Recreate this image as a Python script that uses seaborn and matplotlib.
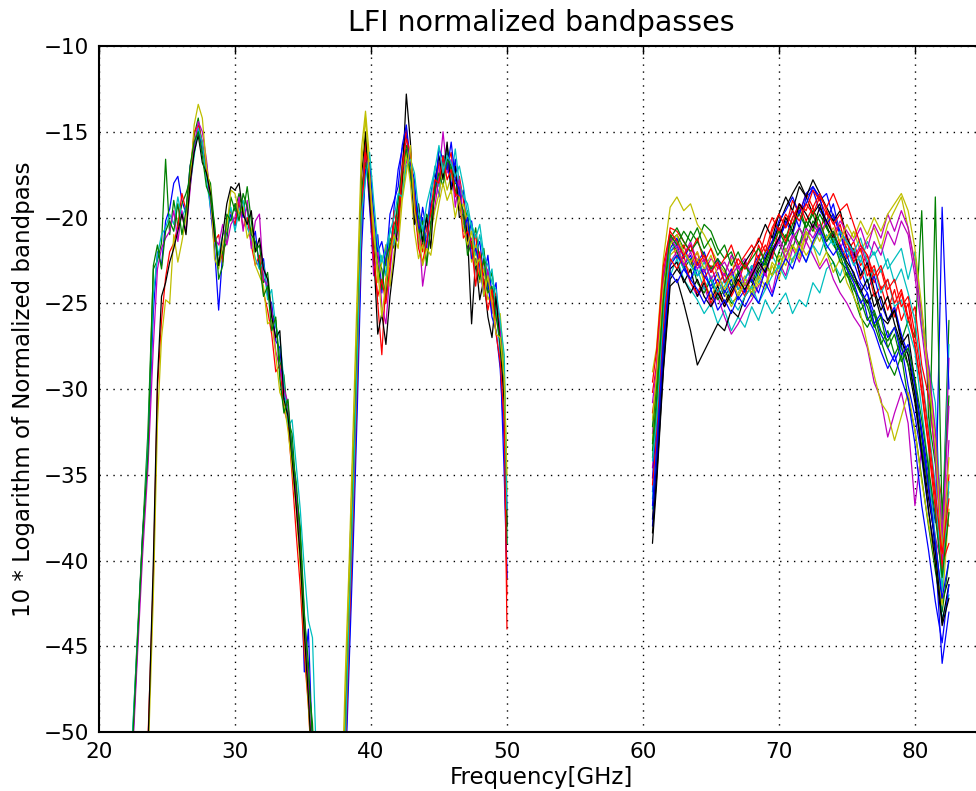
import pandas as pd
import matplotlib.pyplot as plt
import seaborn as sns

# ---------------------------------------------------
# Bandpass data (dB)
# ---------------------------------------------------

FREQ_30 = [22.4, 22.8, 23.2, 23.6, 24.0, 24.3, 24.6, 24.9, 25.2, 25.5,
           25.8, 26.1, 26.4, 26.7, 27.0, 27.3, 27.6, 27.9, 28.2, 28.5,
           28.8, 29.1, 29.4, 29.7, 30.0, 30.3, 30.6, 30.9, 31.2, 31.5,
           31.8, 32.1, 32.4, 32.7, 33.0, 33.3, 33.6, 33.9, 34.2, 34.5,
           34.8, 35.1, 35.4, 35.7, 36.0]

COLORS_30 = ["b", "g", "r", "c", "m", "y", "k", "g"]

BAND_30 = [
    [-52.0, -45.5, -38.5, -34.0, -25.5, -22.0, -22.8, -20.2, -19.5, -18.0,
     -17.6, -19.0, -19.8, -17.0, -16.0, -14.8, -16.2, -16.8, -19.5, -21.8,
     -25.4, -22.0, -20.8, -19.8, -20.5, -19.2, -20.0, -19.4, -21.5, -20.8,
     -23.0, -22.4, -24.6, -25.0, -27.2, -27.6, -30.5, -31.0, -33.5, -35.8,
     -39.0, -46.5, -44.0, -51.0, -56.0],
    [-51.5, -44.8, -38.6, -32.5, -23.0, -22.5, -21.5, -16.6, -21.0, -19.0,
     -20.5, -19.2, -18.6, -17.8, -15.2, -14.2, -15.8, -17.5, -18.0, -20.6,
     -22.8, -22.0, -21.4, -18.8, -19.6, -18.6, -19.8, -18.2, -20.2, -22.0,
     -21.6, -23.8, -23.2, -25.6, -26.0, -28.4, -29.2, -31.8, -32.6, -36.0,
     -38.0, -43.0, -47.0, -49.5, -55.0],
    [-70.0, -64.0, -58.0, -50.5, -41.0, -30.0, -26.0, -23.5, -22.0, -21.5,
     -20.5, -18.6, -19.6, -17.5, -15.0, -14.6, -15.6, -17.2, -18.8, -21.4,
     -21.0, -22.6, -20.2, -19.6, -20.4, -19.0, -20.6, -20.0, -21.6, -22.8,
     -22.2, -24.4, -25.4, -26.8, -29.0, -28.6, -31.2, -32.0, -35.0, -38.4,
     -41.5, -45.5, -48.5, -53.0, -58.0],
    [-51.0, -45.0, -39.2, -33.2, -24.5, -22.2, -21.0, -20.6, -19.8, -20.4,
     -18.8, -20.0, -19.4, -18.2, -16.4, -14.8, -15.6, -17.8, -19.4, -20.8,
     -22.2, -21.0, -20.6, -19.4, -20.8, -19.6, -19.0, -20.6, -21.2, -22.4,
     -23.0, -22.6, -24.8, -24.2, -26.4, -27.0, -29.6, -32.2, -31.8, -34.4,
     -37.0, -40.5, -43.5, -44.5, -52.0],
    [-52.5, -46.0, -39.8, -34.6, -27.5, -23.0, -21.8, -21.2, -20.8, -19.6,
     -21.4, -19.6, -20.8, -18.4, -15.8, -14.4, -15.0, -16.6, -19.0, -21.2,
     -21.6, -20.4, -21.6, -20.4, -20.0, -18.8, -20.8, -19.0, -21.8, -20.2,
     -19.8, -23.6, -24.0, -25.4, -27.8, -28.8, -30.0, -30.8, -34.4, -36.2,
     -39.2, -44.0, -47.5, -52.0, -56.0],
    [-72.0, -66.0, -60.0, -52.0, -42.0, -32.0, -27.0, -24.8, -25.0, -21.0,
     -22.6, -21.4, -20.0, -18.0, -14.6, -13.4, -14.2, -17.0, -18.4, -22.4,
     -23.0, -21.6, -20.6, -18.4, -18.6, -19.8, -19.4, -21.2, -20.6, -22.8,
     -23.4, -24.0, -26.2, -26.0, -28.0, -30.2, -30.8, -32.4, -34.6, -37.0,
     -40.4, -44.6, -48.5, -52.5, -57.0],
    [-71.0, -65.0, -59.0, -51.0, -40.0, -29.5, -24.6, -23.8, -22.6, -21.8,
     -20.8, -19.8, -21.0, -18.0, -16.2, -15.2, -16.8, -17.4, -18.6, -21.0,
     -22.8, -21.0, -19.2, -18.2, -18.4, -18.0, -19.8, -20.4, -19.6, -22.0,
     -21.2, -23.0, -23.6, -25.8, -27.0, -26.6, -30.6, -31.6, -34.0, -36.8,
     -39.8, -44.2, -48.0, -52.5, -57.0],
    [-51.8, -45.2, -38.8, -33.8, -22.8, -21.6, -23.0, -20.8, -20.2, -20.8,
     -19.2, -21.0, -19.6, -17.0, -15.6, -15.0, -16.4, -18.2, -18.8, -20.4,
     -23.6, -22.8, -19.8, -20.2, -19.2, -20.2, -18.6, -19.4, -21.0, -21.4,
     -22.6, -24.6, -24.0, -26.6, -25.8, -29.4, -31.4, -30.6, -33.8, -35.4,
     -38.6, -43.2, -46.0, -50.5, -55.0],
]

FREQ_44 = [37.8, 38.1, 38.4, 38.7, 39.0, 39.3, 39.6, 39.9, 40.2, 40.5,
           40.8, 41.1, 41.4, 41.7, 42.0, 42.3, 42.6, 42.9, 43.2, 43.5,
           43.8, 44.1, 44.4, 44.7, 45.0, 45.3, 45.6, 45.9, 46.2, 46.5,
           46.8, 47.1, 47.4, 47.7, 48.0, 48.3, 48.6, 48.9, 49.2, 49.5,
           49.8, 50.0]

COLORS_44 = ["b", "g", "r", "c", "m", "y", "k", "b", "g", "r", "c", "y"]

BAND_44 = [
    [-57.0, -49.0, -41.0, -33.0, -26.0, -19.5, -16.0, -19.4, -22.8, -21.0,
     -24.4, -21.6, -22.8, -19.4, -17.2, -16.0, -15.2, -17.6, -19.8, -21.2,
     -19.4, -20.8, -18.6, -17.4, -18.8, -16.4, -16.8, -18.2, -16.6, -19.2,
     -18.4, -21.4, -20.2, -22.0, -21.4, -23.4, -22.2, -24.6, -23.8, -28.0,
     -35.0, -41.0],
    [-59.0, -51.0, -44.0, -37.0, -29.0, -20.8, -15.2, -17.8, -20.6, -22.4,
     -23.0, -24.8, -21.2, -21.8, -19.6, -18.0, -15.8, -16.4, -18.6, -20.0,
     -21.6, -19.8, -20.4, -18.2, -17.8, -17.0, -15.8, -17.4, -18.0, -18.2,
     -20.4, -19.6, -21.8, -20.6, -22.6, -21.8, -24.0, -23.2, -25.0, -26.4,
     -29.0, -38.0],
    [-58.0, -50.0, -43.0, -35.0, -27.0, -19.0, -15.6, -18.0, -21.8, -25.0,
     -28.0, -23.6, -22.0, -20.4, -19.8, -16.8, -14.8, -17.2, -19.4, -20.6,
     -22.0, -20.6, -19.8, -18.8, -16.8, -17.6, -17.0, -16.2, -18.8, -17.6,
     -19.0, -20.6, -21.8, -21.0, -23.4, -22.6, -23.2, -25.2, -24.4, -27.0,
     -31.0, -44.0],
    [-60.0, -52.0, -45.0, -38.0, -30.0, -21.0, -16.8, -17.0, -20.4, -23.2,
     -22.2, -23.4, -20.6, -21.6, -18.8, -18.4, -16.6, -17.0, -18.4, -21.6,
     -20.6, -21.2, -19.0, -17.0, -18.2, -16.8, -16.2, -17.8, -16.0, -18.0,
     -18.8, -19.2, -20.6, -22.2, -21.0, -22.4, -23.6, -23.0, -25.4, -27.8,
     -30.4, -39.0],
    [-59.0, -51.0, -44.0, -36.0, -27.0, -18.8, -16.4, -18.8, -23.4, -21.8,
     -25.2, -26.2, -23.2, -20.8, -21.4, -17.4, -16.8, -16.0, -19.8, -20.2,
     -24.0, -22.4, -20.6, -19.4, -17.6, -15.0, -17.4, -16.6, -19.4, -17.8,
     -20.0, -21.8, -21.2, -23.0, -22.2, -24.2, -23.0, -25.6, -24.8, -26.6,
     -30.0, -37.0],
    [-56.0, -47.0, -40.0, -32.0, -24.0, -16.0, -13.8, -16.6, -20.2, -23.8,
     -22.6, -21.6, -24.0, -22.0, -20.6, -18.6, -16.2, -18.0, -20.8, -22.4,
     -21.6, -22.6, -20.8, -19.6, -18.6, -17.2, -18.4, -17.6, -17.2, -19.6,
     -19.2, -20.4, -22.6, -21.6, -23.8, -23.0, -24.8, -24.2, -26.0, -25.6,
     -28.6, -36.0],
    [-57.0, -49.0, -42.0, -34.0, -26.0, -17.6, -15.0, -19.0, -22.0, -26.8,
     -25.6, -27.4, -24.6, -22.6, -20.2, -17.8, -12.8, -15.6, -20.4, -19.2,
     -21.4, -20.0, -21.8, -18.0, -16.4, -17.8, -15.6, -18.6, -17.0, -20.0,
     -19.8, -21.0, -26.2, -22.4, -24.8, -23.6, -25.8, -27.0, -24.6, -27.4,
     -30.8, -38.0],
    [-61.0, -53.0, -46.0, -39.0, -31.0, -22.0, -17.2, -16.8, -19.6, -22.0,
     -21.4, -22.8, -19.8, -19.0, -18.2, -15.8, -14.6, -16.8, -17.8, -20.8,
     -20.0, -21.8, -19.2, -18.6, -16.0, -16.6, -17.2, -15.6, -17.8, -18.4,
     -20.8, -20.0, -22.4, -21.8, -22.8, -24.6, -23.8, -25.8, -26.6, -28.8,
     -33.0, -41.0],
    [-58.0, -50.0, -42.0, -34.0, -26.0, -18.4, -16.8, -18.2, -21.4, -22.8,
     -24.2, -22.4, -21.6, -21.0, -19.0, -17.0, -16.0, -17.4, -19.2, -21.0,
     -20.2, -22.8, -20.4, -18.4, -17.4, -18.2, -16.6, -17.0, -18.4, -19.0,
     -19.6, -22.2, -21.4, -22.8, -23.6, -22.4, -24.4, -24.0, -25.8, -27.2,
     -29.6, -39.0],
    [-60.0, -52.0, -44.0, -37.0, -29.0, -20.2, -16.2, -17.4, -22.4, -24.6,
     -23.6, -25.0, -22.8, -19.6, -20.8, -17.2, -15.4, -16.2, -19.0, -21.8,
     -22.6, -21.4, -19.6, -17.8, -18.0, -16.4, -17.8, -17.2, -18.6, -18.8,
     -21.2, -20.8, -21.6, -24.0, -22.0, -23.8, -25.4, -24.2, -26.8, -28.4,
     -32.0, -42.0],
    [-59.0, -51.0, -43.0, -36.0, -28.0, -19.8, -17.8, -16.2, -19.0, -21.6,
     -22.6, -21.8, -20.8, -20.0, -18.6, -18.8, -17.0, -16.6, -17.4, -19.6,
     -20.8, -19.2, -18.2, -17.2, -15.8, -17.4, -16.4, -16.8, -17.6, -17.0,
     -18.2, -19.8, -20.4, -21.2, -20.4, -22.2, -22.8, -23.8, -24.2, -26.0,
     -28.0, -37.0],
    [-57.0, -48.0, -41.0, -33.0, -25.0, -17.0, -14.2, -17.6, -21.0, -23.0,
     -25.8, -23.8, -22.2, -21.0, -21.8, -19.0, -17.4, -15.8, -19.6, -21.0,
     -22.8, -21.8, -22.2, -20.6, -19.2, -18.0, -19.0, -18.4, -20.0, -18.8,
     -20.6, -21.6, -20.8, -22.8, -22.4, -24.6, -23.4, -25.0, -26.8, -27.0,
     -29.4, -35.0],
]

FREQ_70 = [60.7, 61.0, 61.5, 62.0, 62.5, 63.0, 63.5, 64.0, 64.5, 65.0,
           65.5, 66.0, 66.5, 67.0, 67.5, 68.0, 68.5, 69.0, 69.5, 70.0,
           70.5, 71.0, 71.5, 72.0, 72.5, 73.0, 73.5, 74.0, 74.5, 75.0,
           75.5, 76.0, 76.5, 77.0, 77.5, 78.0, 78.5, 79.0, 79.5, 80.0,
           80.5, 81.0, 81.5, 82.0, 82.5]

COLORS_70 = ["b", "g", "r", "c", "m", "y", "k", "b", "g", "r", "c", "m",
             "y", "k", "b", "g", "r", "c", "m", "y", "k", "b", "g", "r"]

BAND_70 = [
    [-36.0, -33.0, -26.5, -22.0, -21.6, -22.8, -22.2, -23.4, -23.0, -24.2, -23.6, -24.6, -24.0, -23.2, -24.4,
     -23.0, -22.2, -23.4, -21.8, -21.2, -20.4, -19.6, -20.6, -18.8, -18.4, -19.6, -20.2, -19.2, -21.0, -21.8,
     -22.6, -23.8, -24.4, -25.6, -26.8, -27.6, -28.4, -27.4, -29.8, -31.6, -34.0, -37.2, -39.6, -46.0, -43.0],
    [-33.6, -30.8, -24.6, -21.4, -21.0, -21.8, -20.8, -21.4, -20.4, -20.8, -21.8, -22.4, -22.0, -23.2, -22.6,
     -23.8, -22.8, -22.0, -21.4, -20.6, -21.2, -20.0, -19.4, -20.6, -19.8, -21.0, -20.4, -21.6, -22.2, -23.4,
     -24.0, -25.4, -24.8, -26.2, -27.4, -26.6, -28.0, -27.2, -26.0, -27.0, -19.6, -31.6, -34.4, -38.8, -26.0],
    [-30.2, -28.6, -23.2, -21.0, -22.4, -21.6, -22.8, -22.0, -23.6, -22.8, -24.0, -23.2, -24.6, -23.8, -22.6,
     -23.4, -21.6, -22.6, -20.8, -19.8, -20.6, -19.0, -19.8, -18.6, -19.4, -20.8, -19.6, -21.2, -20.4, -22.0,
     -21.4, -22.8, -22.2, -23.8, -23.0, -24.6, -25.8, -24.4, -26.0, -25.2, -28.6, -30.4, -33.8, -36.6, -38.0],
    [-37.0, -34.2, -28.0, -23.4, -22.4, -23.6, -24.2, -24.8, -25.6, -25.0, -26.2, -25.4, -26.6, -25.8, -26.4,
     -25.2, -26.0, -24.8, -25.6, -25.0, -24.4, -25.6, -24.8, -25.2, -23.8, -24.4, -23.0, -22.6, -23.4, -22.2,
     -21.8, -22.6, -21.4, -22.2, -21.6, -23.0, -22.4, -21.8, -23.6, -22.0, -26.4, -28.6, -30.8, -39.0, -27.4],
    [-34.6, -31.6, -25.8, -22.6, -22.0, -22.8, -23.8, -24.6, -24.0, -25.2, -24.6, -25.8, -26.8, -26.2, -25.4,
     -24.8, -24.0, -23.2, -24.4, -22.6, -23.4, -21.8, -22.6, -21.4, -22.2, -23.0, -22.4, -23.6, -24.4, -25.0,
     -25.8, -26.4, -27.6, -29.6, -30.6, -32.8, -31.4, -30.2, -32.0, -36.8, -33.4, -35.8, -38.6, -40.4, -28.2],
    [-29.0, -27.6, -22.4, -19.4, -18.8, -19.6, -19.2, -20.4, -21.0, -21.8, -22.6, -23.2, -22.4, -24.0, -23.4,
     -24.6, -23.8, -24.2, -22.8, -23.6, -22.2, -21.6, -22.4, -21.0, -20.6, -21.4, -20.2, -19.8, -20.8, -21.6,
     -20.8, -22.0, -21.2, -20.6, -21.8, -20.4, -19.6, -18.8, -20.6, -22.6, -25.8, -29.2, -32.6, -38.4, -36.0],
    [-39.0, -35.6, -29.0, -24.0, -23.6, -25.0, -26.6, -28.6, -27.8, -27.0, -26.2, -26.6, -25.4, -25.8, -24.6,
     -24.0, -23.0, -22.4, -21.6, -20.4, -19.4, -18.6, -17.9, -18.8, -19.8, -19.2, -20.6, -21.2, -22.0, -22.8,
     -23.6, -24.2, -25.0, -24.4, -25.8, -26.2, -25.4, -27.0, -28.6, -30.8, -33.6, -36.4, -38.8, -42.4, -41.0],
    [-35.2, -32.0, -25.6, -21.8, -21.2, -22.4, -21.6, -22.6, -22.0, -23.2, -22.4, -23.8, -23.0, -24.2, -23.6,
     -22.8, -23.6, -22.2, -21.4, -20.2, -19.6, -18.8, -19.8, -18.6, -18.2, -19.0, -18.6, -20.0, -20.8, -21.4,
     -22.2, -23.0, -24.2, -23.4, -25.0, -26.0, -25.2, -26.8, -28.0, -29.8, -32.4, -35.0, -37.8, -19.4, -30.0],
    [-34.0, -31.4, -25.2, -21.2, -22.0, -23.0, -22.4, -23.8, -24.4, -23.6, -24.8, -24.2, -25.0, -24.6, -23.8,
     -24.4, -23.2, -22.6, -23.4, -22.0, -21.0, -21.8, -20.6, -21.4, -20.2, -20.8, -22.0, -22.6, -23.8, -23.2,
     -24.6, -25.8, -26.4, -25.6, -27.2, -28.4, -29.2, -28.0, -30.6, -32.4, -35.2, -38.0, -40.6, -43.0, -40.0],
    [-31.4, -29.6, -23.8, -20.6, -20.8, -21.4, -22.0, -21.2, -22.6, -21.8, -23.0, -22.4, -21.6, -22.8, -22.2,
     -21.6, -22.4, -21.0, -20.0, -20.8, -19.8, -20.4, -19.2, -19.6, -18.4, -19.0, -19.8, -20.2, -21.6, -22.4,
     -21.8, -23.6, -22.8, -24.6, -24.0, -25.4, -24.2, -26.0, -25.0, -27.6, -30.2, -33.4, -37.0, -40.8, -35.0],
    [-36.4, -33.2, -26.8, -22.6, -22.2, -23.0, -23.6, -23.0, -24.2, -23.4, -24.6, -24.0, -23.2, -24.2, -23.6,
     -22.8, -23.8, -23.0, -22.2, -23.0, -21.8, -22.6, -21.6, -20.8, -21.6, -20.8, -21.8, -21.2, -22.4, -21.8,
     -22.8, -22.2, -23.8, -23.0, -24.4, -23.6, -25.2, -24.8, -26.4, -27.8, -31.2, -34.6, -38.8, -43.4, -42.0],
    [-32.6, -30.0, -24.2, -21.0, -21.6, -22.2, -21.4, -22.6, -23.2, -22.4, -22.8, -23.4, -22.2, -23.0, -22.4,
     -23.6, -22.6, -23.2, -22.0, -21.2, -22.0, -21.0, -21.8, -20.6, -21.2, -20.4, -21.4, -20.8, -21.8, -21.0,
     -22.4, -21.6, -22.8, -21.4, -22.2, -20.8, -21.6, -20.2, -21.0, -23.4, -26.6, -29.8, -34.0, -40.2, -33.0],
    [-33.0, -30.4, -25.0, -22.2, -21.8, -22.6, -23.2, -22.4, -23.8, -24.6, -23.8, -24.4, -25.2, -24.4, -23.6,
     -24.2, -23.4, -24.0, -22.6, -23.2, -21.8, -22.6, -21.4, -22.2, -21.6, -22.8, -22.0, -23.2, -22.4, -23.8,
     -24.6, -25.6, -27.4, -29.2, -30.8, -31.4, -33.0, -31.6, -30.2, -32.4, -35.4, -37.8, -40.2, -42.6, -37.0],
    [-37.6, -34.4, -27.6, -23.0, -22.6, -23.8, -23.0, -24.6, -23.8, -24.8, -24.0, -25.0, -24.2, -23.4, -22.6,
     -22.0, -21.4, -20.4, -21.2, -19.8, -18.8, -19.6, -18.2, -18.8, -17.8, -18.6, -19.4, -20.2, -19.6, -21.2,
     -22.0, -23.4, -22.6, -24.2, -25.4, -24.6, -26.2, -27.4, -26.8, -29.6, -32.8, -35.6, -39.4, -43.6, -41.4],
    [-38.0, -34.8, -28.4, -22.8, -22.2, -22.8, -23.6, -22.6, -23.4, -24.0, -23.2, -24.4, -23.6, -24.8, -24.2,
     -23.6, -24.4, -23.0, -22.2, -21.4, -20.2, -21.0, -19.6, -19.2, -18.2, -18.8, -20.4, -19.8, -21.0, -22.2,
     -23.4, -24.0, -25.8, -26.6, -27.8, -28.8, -28.0, -29.4, -30.6, -33.2, -36.8, -39.4, -42.4, -44.8, -41.4],
    [-32.2, -29.8, -23.8, -21.2, -20.6, -21.4, -22.0, -21.4, -22.2, -23.0, -22.4, -23.0, -24.0, -23.2, -22.8,
     -23.4, -22.4, -22.8, -21.8, -22.6, -21.4, -20.8, -21.6, -20.2, -20.8, -19.8, -20.6, -21.4, -22.6, -23.0,
     -24.2, -24.8, -26.0, -25.4, -26.6, -27.2, -26.4, -27.6, -28.6, -30.2, -33.4, -35.8, -18.8, -37.6, -30.4],
    [-35.6, -32.8, -26.4, -22.4, -23.0, -22.2, -23.8, -24.4, -23.6, -25.0, -24.2, -25.2, -24.4, -23.8, -24.6,
     -23.2, -22.4, -21.6, -22.4, -20.6, -21.4, -20.0, -19.2, -20.2, -19.4, -18.6, -19.6, -20.4, -19.8, -21.4,
     -22.6, -21.8, -23.4, -22.8, -24.2, -23.6, -25.0, -24.2, -25.8, -27.4, -30.0, -33.2, -36.4, -40.2, -39.0],
    [-34.2, -31.8, -25.4, -22.0, -21.4, -22.0, -22.8, -23.4, -22.6, -23.6, -24.4, -23.6, -24.8, -25.4, -24.6,
     -24.0, -25.0, -24.2, -23.4, -22.8, -23.6, -22.4, -21.8, -22.6, -21.6, -22.2, -21.0, -21.6, -20.8, -21.4,
     -22.0, -21.2, -22.6, -22.0, -23.2, -22.4, -23.8, -23.0, -24.4, -26.0, -29.2, -32.2, -35.6, -41.8, -35.4],
    [-30.8, -28.8, -23.4, -21.2, -21.8, -22.8, -22.0, -23.0, -22.4, -23.6, -23.0, -22.6, -23.4, -22.8, -24.0,
     -23.2, -22.6, -23.4, -22.0, -21.4, -22.4, -21.2, -20.6, -21.4, -20.4, -21.0, -20.2, -21.0, -20.2, -20.8,
     -21.4, -20.6, -21.8, -20.4, -21.2, -19.8, -20.8, -19.6, -20.6, -22.8, -25.6, -28.6, -32.4, -38.6, -31.0],
    [-31.8, -29.2, -24.0, -21.6, -21.0, -22.0, -22.6, -22.0, -23.0, -22.2, -23.4, -24.2, -23.4, -24.6, -23.8,
     -24.4, -23.6, -22.8, -23.4, -22.2, -22.8, -21.6, -22.2, -20.8, -21.6, -20.6, -21.2, -20.6, -21.4, -20.4,
     -21.2, -20.2, -21.0, -20.0, -20.8, -19.8, -19.2, -18.6, -19.6, -21.8, -25.2, -29.4, -33.2, -39.6, -34.0],
    [-38.4, -35.2, -28.8, -23.6, -23.0, -23.6, -24.4, -23.6, -24.6, -25.2, -24.4, -25.2, -24.4, -23.6, -24.2,
     -23.4, -22.6, -23.2, -22.0, -21.2, -20.0, -20.8, -19.2, -19.8, -20.6, -19.4, -20.2, -21.0, -21.8, -22.6,
     -23.2, -24.4, -23.6, -25.2, -24.6, -26.0, -25.4, -27.2, -28.0, -30.4, -33.8, -37.0, -40.2, -43.8, -42.2],
    [-36.8, -33.6, -27.2, -23.2, -23.8, -23.0, -23.6, -24.2, -25.0, -24.2, -25.4, -24.8, -25.6, -24.6, -25.2,
     -24.4, -25.0, -23.8, -24.6, -23.2, -22.4, -23.0, -21.8, -22.6, -21.4, -20.6, -21.6, -22.2, -21.6, -23.0,
     -23.8, -25.0, -24.4, -26.2, -25.6, -27.0, -26.4, -28.0, -27.4, -29.8, -32.6, -35.8, -39.0, -42.2, -40.0],
    [-33.2, -30.6, -24.8, -21.0, -21.6, -20.8, -21.4, -20.6, -21.8, -21.2, -22.2, -21.6, -22.8, -22.0, -23.0,
     -22.4, -21.8, -22.6, -21.6, -20.8, -21.6, -20.4, -19.8, -20.6, -19.6, -20.2, -21.4, -20.8, -22.0, -22.8,
     -23.6, -24.4, -25.2, -26.4, -25.8, -27.6, -26.8, -28.4, -27.6, -29.4, -31.8, -34.6, -37.4, -41.0, -37.2],
    [-29.6, -27.8, -22.8, -20.8, -21.4, -22.2, -21.6, -22.8, -22.2, -23.2, -22.6, -23.8, -23.2, -22.4, -23.0,
     -22.2, -21.2, -22.0, -20.6, -19.8, -20.6, -19.6, -20.2, -19.2, -19.8, -18.8, -19.4, -18.6, -19.6, -19.2,
     -20.4, -21.6, -22.2, -23.4, -22.8, -24.2, -23.6, -25.2, -24.6, -26.8, -29.4, -32.6, -36.0, -39.6, -36.4],
]

# ---------------------------------------------------
# Long table, one line per radiometer
# ---------------------------------------------------

frames = []
palette = {}
for band, freq, curves, colors in [("30", FREQ_30, BAND_30, COLORS_30),
                                   ("44", FREQ_44, BAND_44, COLORS_44),
                                   ("70", FREQ_70, BAND_70, COLORS_70)]:
    for i, (vals, col) in enumerate(zip(curves, colors)):
        name = f"{band}_{i:02d}"
        frames.append(pd.DataFrame({"freq": freq, "value": vals, "curve": name}))
        palette[name] = col

df = pd.concat(frames, ignore_index=True)

# ---------------------------------------------------
# Plot
# ---------------------------------------------------

sns.set_style("white")
plt.rcParams["font.family"] = ["DejaVu Sans"]
plt.rcParams["text.color"] = "black"
plt.rcParams["axes.labelcolor"] = "black"

fig = plt.figure(figsize=(9.76, 7.91), dpi=100)
ax = fig.add_axes([0.1014, 0.0746, 0.9057, 0.8672])

sns.lineplot(data=df, x="freq", y="value", hue="curve", palette=palette,
             estimator=None, sort=False, legend=False, linewidth=0.9, ax=ax)

ax.set_xlim(20, 85)
ax.set_ylim(-50, -10)
ax.set_xticks([20, 30, 40, 50, 60, 70, 80])
ax.set_yticks(range(-50, -9, 5))

ax.grid(True, color="black", linestyle=(0, (1, 4)), linewidth=1.0)
ax.tick_params(direction="in", top=True, right=True, length=5.5, width=1,
               labelsize=15.5, pad=7, colors="black")
for sp in ax.spines.values():
    sp.set_color("black")
    sp.set_linewidth(1.5)

ax.set_title("LFI normalized bandpasses", fontsize=20.5, pad=11, color="black")
ax.set_xlabel("Frequency[GHz]", fontsize=16.5, labelpad=3, color="black")
ax.set_ylabel("10 * Logarithm of Normalized bandpass", fontsize=16.5, labelpad=6,
              color="black")

fig.savefig("out.png", dpi=100)
